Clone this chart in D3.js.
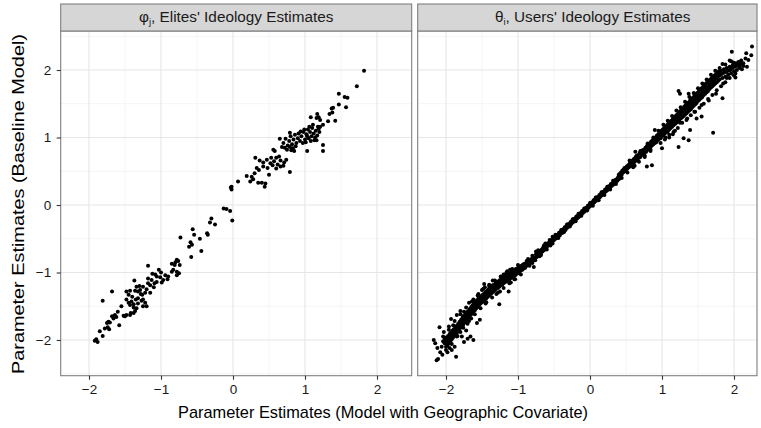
<!DOCTYPE html>
<html><head><meta charset="utf-8">
<script src="https://cdn.jsdelivr.net/npm/d3@7"></script>
<style>body{margin:0;background:#fff}svg{display:block;font-family:"Liberation Sans",Arial,Helvetica,sans-serif}</style>
</head><body><svg id="c" width="761" height="428"></svg>
<script>
// ---------- data ----------
const xTickValues = [-2, -1, 0, 1, 2];
const yTickValues = [-2, -1, 0, 1, 2];
const xTickLabels = ["\u22122", "\u22121", "0", "1", "2"];
const yTickLabels = ["\u22122", "\u22121", "0", "1", "2"];
const panelSymbols = ["\u03C6", "\u03B8"];
const panelSubs = ["j", "i"];
const panelTitles = [", Elites' Ideology Estimates", ", Users' Ideology Estimates"];
const xTitle = "Parameter Estimates (Model with Geographic Covariate)";
const yTitle = "Parameter Estimates (Baseline Model)";

const elitesPoints = [
[1.82,1.99],[1.72,1.76],[1.47,1.65],[1.55,1.60],[1.59,1.59],[1.47,1.49],[1.57,1.45],[1.37,1.43],[1.39,1.44],[1.34,1.35],[1.38,1.37],[1.42,1.25],[1.32,1.24],[1.17,1.35],[1.19,1.30],[1.21,1.26],[1.16,1.29],[1.08,1.30],[1.25,1.19],[1.21,1.16],[1.19,1.13],
[0.95,1.02],[0.98,1.08],[1.00,0.97],[1.02,1.05],[1.04,1.12],[1.05,0.99],[1.07,1.08],[1.09,1.02],[1.10,1.14],[1.12,1.06],[1.13,0.96],[1.15,1.10],[1.17,1.03],[1.18,1.16],[1.20,1.08],[0.93,0.95],[0.97,0.92],[1.01,0.93],[1.06,1.16],[1.11,1.19],[1.14,1.00],[1.03,1.02],[0.99,1.12],[1.08,0.95],
[0.70,0.92],[0.73,0.98],[0.76,0.88],[0.78,0.95],[0.80,1.02],[0.82,0.90],[0.84,0.97],[0.86,1.04],[0.88,0.92],[0.90,0.99],[0.72,0.85],[0.75,0.82],[0.79,0.86],[0.83,0.84],[0.87,0.87],[0.91,1.06],[0.94,1.09],[0.65,0.98],[0.79,1.07],[0.68,0.86],[0.81,0.81],[0.85,0.80],[1.03,0.80],[1.25,0.89],[1.25,0.80],[1.16,0.96],[0.56,0.82],[0.58,0.80],
[0.31,0.70],[0.37,0.66],[0.42,0.63],[0.47,0.67],[0.52,0.62],[0.57,0.65],[0.62,0.60],[0.66,0.66],[0.71,0.63],[0.74,0.67],[0.42,0.57],[0.48,0.55],[0.55,0.59],[0.60,0.54],[0.66,0.57],[0.70,0.58],[0.79,0.49],[0.33,0.55],[0.36,0.52],[0.19,0.43],[0.26,0.42],[0.28,0.38],[0.24,0.35],[0.35,0.33],[0.40,0.33],[0.45,0.32],[0.44,0.27],[0.07,0.35],[-0.02,0.27],[0.30,0.47],[0.50,0.45],[0.60,0.70],[0.64,0.72],[0.53,0.70],
[-0.03,0.26],[-0.02,0.23],[-0.13,-0.05],[-0.09,-0.06],[-0.04,-0.09],[-0.01,-0.23],[-0.30,-0.20],[-0.32,-0.26],[-0.25,-0.29],[-0.56,-0.36],[-0.54,-0.44],[-0.46,-0.50],[-0.36,-0.42],[-0.35,-0.44],[-0.73,-0.48],[-0.59,-0.55],[-0.57,-0.59],[-0.61,-0.62],[-0.44,-0.68],[-0.58,-0.77],[-0.78,-0.81],[-0.76,-0.83],[-0.80,-0.85],[-0.85,-0.87],[-0.81,-0.89],[-0.74,-0.89],[-0.83,-0.96],[-0.78,-0.99],[-0.85,-0.99],[-0.75,-1.01],[-0.78,-1.04],[-1.18,-0.90],[-1.03,-0.96],[-1.08,-1.03],[-1.06,-1.06],[-0.94,-1.04],[-0.90,-1.06],[-0.91,-1.10],[-1.01,-1.07],[-0.97,-1.11],[-0.99,-1.15],
[-1.18,-1.09],[-1.13,-1.11],[-1.18,-1.16],[-1.15,-1.19],[-1.09,-1.16],[-1.06,-1.14],[-1.37,-1.12],[-1.34,-1.21],[-1.36,-1.27],[-1.29,-1.26],[-1.25,-1.21],[-1.26,-1.33],[-1.48,-1.28],[-1.45,-1.33],[-1.43,-1.27],[-1.68,-1.28],[-1.81,-1.42],
[-1.48,-1.40],[-1.41,-1.43],[-1.43,-1.48],[-1.38,-1.47],[-1.32,-1.38],[-1.27,-1.42],[-1.32,-1.46],[-1.22,-1.45],[-1.25,-1.50],[-1.20,-1.50],[-1.34,-1.53],[-1.36,-1.57],[-1.42,-1.60],[-1.38,-1.60],[-1.43,-1.63],[-1.48,-1.63],[-1.50,-1.65],[-1.52,-1.64],[-1.64,-1.63],[-1.66,-1.68],[-1.62,-1.66],[-1.68,-1.65],[-1.73,-1.73],[-1.75,-1.75],[-1.71,-1.74],[-1.58,-1.78],[-1.78,-1.83],[-1.74,-1.81],
[-1.90,-1.99],[-1.88,-2.03],[-1.81,-1.94],[-1.85,-1.87],[-1.92,-2.01],[-1.72,-1.84],
[-1.30,-1.20],[-1.20,-1.25],[-1.22,-1.30],[-1.28,-1.32],[-1.35,-1.40],[-1.40,-1.36],[-1.45,-1.45],[-1.25,-1.40],[-1.15,-1.30],[-1.10,-1.22],[-1.32,-1.28],[-1.38,-1.52],[-1.55,-1.50],[-1.60,-1.58],[-1.12,-1.02],[-1.00,-1.00]
];

const usersPoints = [
// central band
[-0.90,-0.93],[-0.89,-0.87],[-0.88,-0.90],[-0.87,-0.86],[-0.86,-0.89],[-0.85,-0.84],[-0.84,-0.87],[-0.83,-0.81],[-0.82,-0.85],[-0.81,-0.80],[-0.80,-0.83],[-0.79,-0.77],[-0.78,-0.81],[-0.77,-0.78],[-0.76,-0.79],[-0.75,-0.73],[-0.74,-0.77],[-0.73,-0.74],[-0.72,-0.75],[-0.71,-0.70],[-0.70,-0.73],[-0.69,-0.68],[-0.68,-0.71],[-0.67,-0.66],[-0.66,-0.69],[-0.65,-0.63],[-0.64,-0.67],[-0.63,-0.62],[-0.62,-0.65],[-0.61,-0.60],[-0.60,-0.62],[-0.59,-0.57],[-0.58,-0.60],[-0.57,-0.56],[-0.56,-0.58],[-0.55,-0.53],[-0.54,-0.57],[-0.53,-0.52],[-0.52,-0.54],[-0.51,-0.49],[-0.50,-0.52],[-0.49,-0.48],[-0.48,-0.50],[-0.47,-0.45],[-0.46,-0.49],[-0.45,-0.44],[-0.44,-0.46],[-0.43,-0.41],[-0.42,-0.45],[-0.41,-0.40],[-0.40,-0.42],[-0.39,-0.37],[-0.38,-0.41],[-0.37,-0.36],[-0.36,-0.38],[-0.35,-0.33],[-0.34,-0.37],[-0.33,-0.32],[-0.32,-0.34],[-0.31,-0.29],[-0.30,-0.32],[-0.29,-0.28],[-0.28,-0.30],[-0.27,-0.25],[-0.26,-0.28],[-0.25,-0.24],[-0.24,-0.26],[-0.23,-0.21],[-0.22,-0.24],[-0.21,-0.20],[-0.20,-0.22],[-0.19,-0.17],[-0.18,-0.20],[-0.17,-0.16],[-0.16,-0.18],[-0.15,-0.13],[-0.14,-0.16],[-0.13,-0.12],[-0.12,-0.14],[-0.11,-0.09],[-0.10,-0.12],[-0.09,-0.08],[-0.08,-0.10],[-0.07,-0.05],[-0.06,-0.08],[-0.05,-0.04],[-0.04,-0.06],[-0.03,-0.01],[-0.02,-0.04],[-0.01,0.00],[0.00,-0.02],[0.01,0.03],[0.02,0.00],[0.03,0.04],[0.04,0.02],[0.05,0.07],[0.06,0.04],[0.07,0.08],[0.08,0.06],[0.09,0.11],[0.10,0.08],[0.11,0.12],[0.12,0.10],[0.13,0.15],[0.14,0.12],[0.15,0.16],[0.16,0.14],[0.17,0.19],[0.18,0.16],[0.19,0.20],[0.20,0.18],[0.21,0.23],[0.22,0.20],[0.23,0.24],[0.24,0.22],[0.25,0.27],[0.26,0.24],[0.27,0.28],[0.28,0.26],[0.29,0.31],[0.30,0.28],[0.31,0.32],[0.32,0.30],[0.33,0.35],[0.34,0.32],[0.35,0.37],[0.36,0.34],[0.37,0.38],[0.38,0.36],[0.39,0.41],[0.40,0.38],
[0.41,0.46],[0.42,0.43],[0.43,0.48],[0.44,0.45],[0.45,0.51],[0.46,0.48],[0.47,0.53],[0.48,0.50],[0.49,0.55],[0.50,0.52],[0.51,0.57],[0.52,0.54],[0.53,0.59],[0.54,0.56],[0.55,0.61],[0.56,0.58],[0.57,0.63],[0.58,0.60],[0.59,0.66],[0.60,0.62],[0.61,0.68],[0.62,0.64],[0.63,0.70],[0.64,0.66],[0.65,0.73],[0.66,0.67],[0.67,0.74],[0.68,0.70],[0.69,0.77],[0.70,0.71],[0.71,0.78],[0.72,0.74],[0.73,0.81],[0.74,0.75],[0.75,0.82],[0.76,0.78],[0.77,0.85],[0.78,0.79],[0.79,0.87],[0.80,0.82],[0.81,0.89],[0.82,0.84],[0.83,0.91],[0.84,0.86],[0.85,0.94],[0.86,0.88],[0.87,0.96],[0.88,0.90],[0.89,0.98],[0.90,0.92],
[-0.88,-0.83],[-0.84,-0.90],[-0.80,-0.75],[-0.76,-0.82],[-0.72,-0.67],[-0.68,-0.74],[-0.64,-0.60],[-0.60,-0.66],[-0.56,-0.52],[-0.52,-0.57],[-0.48,-0.44],[-0.44,-0.49],[-0.40,-0.37],[-0.36,-0.40],[-0.32,-0.29],[-0.28,-0.32],[-0.24,-0.21],[-0.20,-0.24],[-0.16,-0.13],[-0.12,-0.16],[-0.08,-0.05],[-0.04,-0.08],[0.00,0.03],[0.04,-0.01],[0.08,0.11],[0.12,0.07],[0.16,0.19],[0.20,0.15],[0.24,0.27],[0.28,0.23],[0.32,0.36],[0.36,0.31],[0.40,0.45],[0.44,0.40],[0.48,0.55],[0.52,0.48],[0.56,0.64],[0.60,0.56],[0.64,0.72],[0.68,0.64],[0.72,0.80],[0.76,0.71],[0.80,0.88],[0.84,0.80],[0.88,0.96],
[0.55,0.66],[0.62,0.58],[0.70,0.80],[0.76,0.73],[0.80,0.91],[0.84,0.82],[0.88,1.00],[0.63,0.79],[0.79,0.57],[0.86,0.59],[1.00,0.84],[0.90,1.11],
[-0.55,-0.60],[-0.62,-0.57],[-0.70,-0.76],[-0.75,-0.69],[-0.80,-0.86],[-0.86,-0.80],[-0.52,-0.47],
// upper band
[0.91,1.00],[0.92,0.93],[0.93,1.03],[0.94,0.96],[0.95,1.05],[0.96,0.98],[0.97,1.07],[0.98,0.99],[0.99,1.10],[1.00,1.02],[1.01,1.12],[1.02,1.04],[1.03,1.14],[1.04,1.06],[1.05,1.16],[1.06,1.08],[1.07,1.18],[1.08,1.09],[1.09,1.21],[1.10,1.12],[1.11,1.23],[1.12,1.14],[1.13,1.25],[1.14,1.16],[1.15,1.27],[1.16,1.18],[1.17,1.29],[1.18,1.20],[1.19,1.32],[1.20,1.22],[1.21,1.34],[1.22,1.24],[1.23,1.36],[1.24,1.26],[1.25,1.39],[1.26,1.28],[1.27,1.41],[1.28,1.30],[1.29,1.43],[1.30,1.32],[1.31,1.46],[1.32,1.34],[1.33,1.48],[1.34,1.36],[1.35,1.50],[1.36,1.38],[1.37,1.52],[1.38,1.40],[1.39,1.55],[1.40,1.42],[1.41,1.57],[1.42,1.45],[1.43,1.59],[1.44,1.47],[1.45,1.62],[1.46,1.49],[1.47,1.64],[1.48,1.51],[1.49,1.66],[1.50,1.54],[1.51,1.68],[1.52,1.56],[1.53,1.71],[1.54,1.58],[1.55,1.73],[1.56,1.60],[1.57,1.75],[1.58,1.63],[1.59,1.77],[1.60,1.65],[1.61,1.80],[1.62,1.67],[1.63,1.82],[1.64,1.69],[1.65,1.84],[1.66,1.72],[1.67,1.86],[1.68,1.74],[1.69,1.88],[1.70,1.76],[1.71,1.90],[1.72,1.78],[1.73,1.92],[1.74,1.80],[1.75,1.94],[1.76,1.82],[1.77,1.96],[1.78,1.84],[1.79,1.98],[1.80,1.86],[1.82,1.99],[1.84,1.88],[1.86,2.01],[1.88,1.90],[1.90,2.03],[1.92,1.93],[1.94,2.05],[1.96,1.95],[1.98,2.07],[2.00,1.98],[2.02,2.10],[2.04,2.00],[2.06,2.12],[2.08,2.03],[2.10,2.14],[2.13,2.06],[2.16,2.17],[2.20,2.15],
[0.92,0.97],[0.94,1.00],[0.96,1.02],[0.98,1.04],[1.00,1.06],[1.02,1.08],[1.04,1.10],[1.06,1.12],[1.08,1.15],[1.10,1.17],[1.12,1.19],[1.14,1.21],[1.16,1.23],[1.18,1.26],[1.20,1.28],[1.22,1.30],[1.24,1.32],[1.26,1.34],[1.28,1.37],[1.30,1.39],[1.32,1.41],[1.34,1.43],[1.36,1.45],[1.38,1.47],[1.40,1.49],[1.42,1.51],[1.44,1.53],[1.46,1.56],[1.48,1.58],[1.50,1.60],[1.52,1.62],[1.54,1.64],[1.56,1.67],[1.58,1.69],[1.60,1.71],[1.62,1.73],[1.64,1.76],[1.66,1.78],[1.68,1.80],[1.70,1.82],[1.72,1.85],[1.74,1.87],[1.76,1.89],[1.78,1.91],[1.80,1.92],[1.83,1.94],[1.86,1.96],[1.89,1.97],[1.92,1.99],[1.95,2.01],[1.98,2.03],[2.01,2.05],[2.04,2.06],[2.07,2.08],[2.10,2.10],
[0.95,1.10],[1.02,1.19],[1.08,1.25],[1.14,1.32],[1.20,1.40],[1.26,1.45],[1.32,1.53],[1.38,1.60],[1.44,1.66],[1.50,1.73],[1.56,1.80],[1.62,1.86],[1.68,1.93],[1.74,1.99],[1.80,2.03],[1.88,2.08],[1.96,2.13],
[0.98,0.92],[1.04,0.97],[1.10,1.04],[1.16,1.08],[1.22,1.14],[1.28,1.22],[1.34,1.26],[1.40,1.33],[1.46,1.38],[1.52,1.44],[1.58,1.50],[1.64,1.57],[1.70,1.63],[1.76,1.70],[1.82,1.76],[1.88,1.82],[1.94,1.88],[2.02,1.95],
[1.05,1.00],[1.12,1.20],[1.18,1.10],[1.25,1.22],[1.30,1.40],[1.35,1.28],[1.40,1.50],[1.45,1.38],[1.50,1.62],[1.55,1.48],[1.60,1.74],[1.65,1.55],[1.70,1.82],[1.75,1.65],[1.80,1.94],[1.85,1.80],[1.90,1.88],[1.95,2.00],[2.00,1.92],[1.10,1.00],[1.20,1.30],[1.15,1.05],
[2.25,2.35],[1.97,2.27],[2.17,2.25],[2.24,2.22],[1.94,2.14],[1.99,2.11],[2.04,2.09],[2.07,2.10],[2.11,2.09],[2.13,2.10],[2.08,2.05],[2.11,2.01],[2.18,2.05],[1.84,2.09],[2.02,1.89],[1.84,1.58],[1.71,1.07],[1.23,1.69],[1.25,1.65],[1.37,1.65],[1.23,0.86],[1.30,0.99],[1.37,0.96],[1.39,1.11],[1.48,1.28],[1.55,1.31],
// lower band
[-0.91,-0.87],[-0.92,-0.94],[-0.93,-0.88],[-0.94,-0.96],[-0.95,-0.90],[-0.96,-0.97],[-0.97,-0.91],[-0.98,-0.99],[-0.99,-0.92],[-1.00,-1.01],[-1.01,-0.94],[-1.02,-1.02],[-1.03,-0.95],[-1.04,-1.04],[-1.05,-0.97],[-1.06,-1.05],[-1.07,-0.98],[-1.08,-1.07],[-1.09,-1.00],[-1.10,-1.08],[-1.11,-1.01],[-1.12,-1.10],[-1.13,-1.03],[-1.14,-1.11],[-1.15,-1.04],[-1.16,-1.13],[-1.17,-1.05],[-1.18,-1.14],[-1.19,-1.07],[-1.20,-1.16],[-1.21,-1.08],[-1.22,-1.18],[-1.23,-1.10],[-1.24,-1.19],[-1.25,-1.11],[-1.26,-1.21],[-1.27,-1.13],[-1.28,-1.23],[-1.29,-1.14],[-1.30,-1.24],[-1.31,-1.16],[-1.32,-1.26],[-1.33,-1.18],[-1.34,-1.28],[-1.35,-1.19],[-1.36,-1.30],[-1.37,-1.21],[-1.38,-1.32],[-1.39,-1.23],[-1.40,-1.34],[-1.41,-1.25],[-1.42,-1.36],[-1.43,-1.27],[-1.44,-1.38],[-1.45,-1.29],[-1.46,-1.40],[-1.47,-1.31],[-1.48,-1.42],[-1.49,-1.33],[-1.50,-1.44],[-1.51,-1.35],[-1.52,-1.46],[-1.53,-1.37],[-1.54,-1.48],[-1.55,-1.39],[-1.56,-1.51],[-1.57,-1.41],[-1.58,-1.53],[-1.59,-1.44],[-1.60,-1.56],[-1.61,-1.46],[-1.62,-1.58],[-1.63,-1.49],[-1.64,-1.61],[-1.65,-1.51],[-1.66,-1.63],[-1.67,-1.54],[-1.68,-1.66],[-1.69,-1.57],[-1.70,-1.68],[-1.71,-1.59],[-1.72,-1.71],[-1.73,-1.62],[-1.74,-1.74],[-1.75,-1.65],[-1.76,-1.77],[-1.77,-1.67],[-1.78,-1.79],[-1.79,-1.70],[-1.80,-1.82],[-1.81,-1.73],[-1.82,-1.85],[-1.83,-1.76],[-1.84,-1.88],[-1.85,-1.79],[-1.86,-1.91],[-1.87,-1.81],[-1.88,-1.93],[-1.89,-1.84],[-1.90,-1.96],[-1.91,-1.86],[-1.92,-1.99],[-1.93,-1.89],[-1.94,-2.02],[-1.95,-1.91],[-1.96,-2.05],[-1.97,-1.94],[-1.98,-2.08],[-1.99,-1.96],[-2.00,-2.10],[-2.01,-1.99],[-2.02,-2.05],[-2.04,-1.95],[-2.06,-2.10],
[-0.92,-0.91],[-0.94,-0.93],[-0.96,-0.94],[-0.98,-0.95],[-1.00,-0.97],[-1.02,-0.98],[-1.04,-1.00],[-1.06,-1.01],[-1.08,-1.03],[-1.10,-1.04],[-1.12,-1.06],[-1.14,-1.07],[-1.16,-1.09],[-1.18,-1.10],[-1.20,-1.12],[-1.22,-1.14],[-1.24,-1.15],[-1.26,-1.17],[-1.28,-1.19],[-1.30,-1.20],[-1.32,-1.22],[-1.34,-1.24],[-1.36,-1.25],[-1.38,-1.27],[-1.40,-1.29],[-1.42,-1.31],[-1.44,-1.33],[-1.46,-1.35],[-1.48,-1.37],[-1.50,-1.39],[-1.52,-1.41],[-1.54,-1.43],[-1.56,-1.46],[-1.58,-1.48],[-1.60,-1.50],[-1.62,-1.52],[-1.64,-1.55],[-1.66,-1.57],[-1.68,-1.60],[-1.70,-1.63],[-1.72,-1.65],[-1.74,-1.68],[-1.76,-1.71],[-1.78,-1.74],[-1.80,-1.76],[-1.82,-1.79],[-1.84,-1.82],[-1.86,-1.85],[-1.88,-1.88],[-1.90,-1.90],[-1.92,-1.93],[-1.94,-1.96],[-1.96,-1.99],[-1.98,-2.01],[-2.00,-2.04],[-2.02,-1.97],[-2.04,-2.02],
[-1.00,-0.89],[-1.08,-0.95],[-1.16,-1.00],[-1.24,-1.06],[-1.32,-1.12],[-1.40,-1.18],[-1.48,-1.24],[-1.56,-1.34],[-1.64,-1.43],[-1.72,-1.52],[-1.80,-1.62],[-1.88,-1.72],[-1.96,-1.80],
[-0.96,-1.03],[-1.04,-1.10],[-1.12,-1.16],[-1.20,-1.23],[-1.28,-1.30],[-1.36,-1.37],[-1.44,-1.44],[-1.52,-1.53],[-1.60,-1.62],[-1.68,-1.72],[-1.76,-1.82],[-1.84,-1.94],[-1.92,-2.06],[-2.00,-2.15],
[-1.05,-1.10],[-1.15,-0.98],[-1.25,-1.28],[-1.35,-1.12],[-1.45,-1.46],[-1.55,-1.32],[-1.65,-1.68],[-1.75,-1.58],[-1.85,-1.95],[-1.90,-1.78],[-1.95,-2.12],[-1.80,-1.88],[-1.70,-1.76],[-1.60,-1.50],[-1.40,-1.20],[-1.30,-1.32],[-1.20,-1.03],[-1.10,-1.15],[-1.50,-1.26],[-1.62,-1.40],
[-0.78,-0.92],[-1.11,-0.96],[-1.09,-1.00],[-1.13,-1.28],[-1.47,-1.17],[-1.46,-1.22],[-1.26,-1.47],[-1.68,-1.45],[-1.80,-1.57],[-1.85,-1.63],[-1.93,-1.69],[-1.76,-1.65],[-2.09,-1.81],[-1.53,-1.70],[-1.57,-1.75],[-2.17,-2.00],[-2.13,-2.30],[-2.15,-2.05],[-2.11,-2.28],[-1.86,-2.25],[-1.62,-2.00],[-2.08,-2.18],[-2.05,-2.22],[-1.98,-2.18],[-1.92,-2.15],[-1.75,-2.03],[-1.70,-1.98],[-2.03,-1.88],[-2.12,-2.12],[-1.96,-1.85],[-1.88,-2.10],[-1.78,-1.95],[-1.66,-1.95],[-1.72,-1.86]
];

// ---------- drawing ----------
const svg = d3.select("#c");
const panelTop = 31, panelBottom = 375.7, stripTop = 4;
const panels = [
  {left: 60.7, right: 411.7, pts: elitesPoints, idx: 0},
  {left: 417.7, right: 757, pts: usersPoints, idx: 1}
];
const pxPerUnit = 72, zeroOffset = 172.3;
const y = d3.scaleLinear().domain([-2.529, 2.578]).range([panelBottom, panelTop]);

const defs = svg.append("defs");

panels.forEach(p => {
  const x = d3.scaleLinear()
    .domain([-zeroOffset / pxPerUnit, (p.right - p.left - zeroOffset) / pxPerUnit])
    .range([p.left, p.right]);
  const g = svg.append("g");
  const w = p.right - p.left;
  const h = panelBottom - panelTop;
  g.append("rect").attr("x", p.left).attr("y", panelTop).attr("width", w).attr("height", h).attr("fill", "#fff");
  const xd = x.domain(), yd = y.domain();
  const xMinor = d3.range(-2.5, 3, 1).filter(v => v > xd[0] && v < xd[1]);
  const yMinor = d3.range(-2.5, 3, 1).filter(v => v > yd[0] && v < yd[1]);
  g.selectAll(".xm").data(xMinor).join("line").attr("x1", d => x(d)).attr("x2", d => x(d)).attr("y1", panelTop).attr("y2", panelBottom).attr("stroke", "#f5f5f5").attr("stroke-width", 1);
  g.selectAll(".ym").data(yMinor).join("line").attr("y1", d => y(d)).attr("y2", d => y(d)).attr("x1", p.left).attr("x2", p.right).attr("stroke", "#f5f5f5").attr("stroke-width", 1);
  g.selectAll(".xM").data(xTickValues).join("line").attr("x1", d => x(d)).attr("x2", d => x(d)).attr("y1", panelTop).attr("y2", panelBottom).attr("stroke", "#e6e6e6").attr("stroke-width", 1.1);
  g.selectAll(".yM").data(yTickValues).join("line").attr("y1", d => y(d)).attr("y2", d => y(d)).attr("x1", p.left).attr("x2", p.right).attr("stroke", "#e6e6e6").attr("stroke-width", 1.1);
  const cid = "clip" + p.idx;
  defs.append("clipPath").attr("id", cid).append("rect").attr("x", p.left).attr("y", panelTop).attr("width", w).attr("height", h);
  g.append("g").attr("clip-path", `url(#${cid})`).selectAll("circle").data(p.pts).join("circle")
    .attr("cx", d => x(d[0])).attr("cy", d => y(d[1])).attr("r", 2).attr("fill", "#000");
  g.append("rect").attr("x", p.left).attr("y", panelTop).attr("width", w).attr("height", h).attr("fill", "none").attr("stroke", "#7f7f7f").attr("stroke-width", 1.1);
  g.append("rect").attr("x", p.left).attr("y", stripTop).attr("width", w).attr("height", panelTop - stripTop).attr("fill", "#d6d6d6").attr("stroke", "#7f7f7f").attr("stroke-width", 1.1);
  const cx = p.idx === 0 ? (p.left + p.right) / 2 : p.left + 175;
  const t = g.append("text").attr("x", cx).attr("y", 22).attr("text-anchor", "middle").attr("font-size", 15.3).attr("fill", "#1a1a1a");
  t.append("tspan").text(panelSymbols[p.idx]);
  t.append("tspan").attr("font-size", 9.5).attr("dy", 3).text(panelSubs[p.idx]);
  t.append("tspan").attr("dy", -3).text(panelTitles[p.idx]);
  const ax = d3.axisBottom(x).tickValues(xTickValues).tickFormat((d, i) => xTickLabels[i]).tickSize(4).tickPadding(5);
  const axg = g.append("g").attr("transform", `translate(0,${panelBottom})`).call(ax);
  axg.select(".domain").remove();
  axg.selectAll("line").attr("stroke", "#333").attr("stroke-width", 1.1);
  axg.selectAll("text").attr("font-size", 13.5).attr("fill", "#1a1a1a").attr("font-family", "'Liberation Sans Narrow','Liberation Sans',Arial,sans-serif");
  if (p.idx === 0) {
    const ay = d3.axisLeft(y).tickValues(yTickValues).tickFormat((d, i) => yTickLabels[i]).tickSize(4).tickPadding(5.5);
    const ayg = g.append("g").attr("transform", `translate(${p.left},0)`).call(ay);
    ayg.select(".domain").remove();
    ayg.selectAll("line").attr("stroke", "#333").attr("stroke-width", 1.1);
    ayg.selectAll("text").attr("font-size", 13.5).attr("fill", "#1a1a1a");
  }
});

svg.append("text").attr("x", 383).attr("y", 418).attr("text-anchor", "middle")
  .attr("font-size", 17).attr("fill", "#000")
  .attr("textLength", 410).attr("lengthAdjust", "spacingAndGlyphs").text(xTitle);
svg.append("text").attr("transform", "translate(24,204) rotate(-90)").attr("text-anchor", "middle")
  .attr("font-size", 17).attr("fill", "#000")
  .attr("textLength", 340).attr("lengthAdjust", "spacingAndGlyphs").text(yTitle);
</script>
</body></html>
